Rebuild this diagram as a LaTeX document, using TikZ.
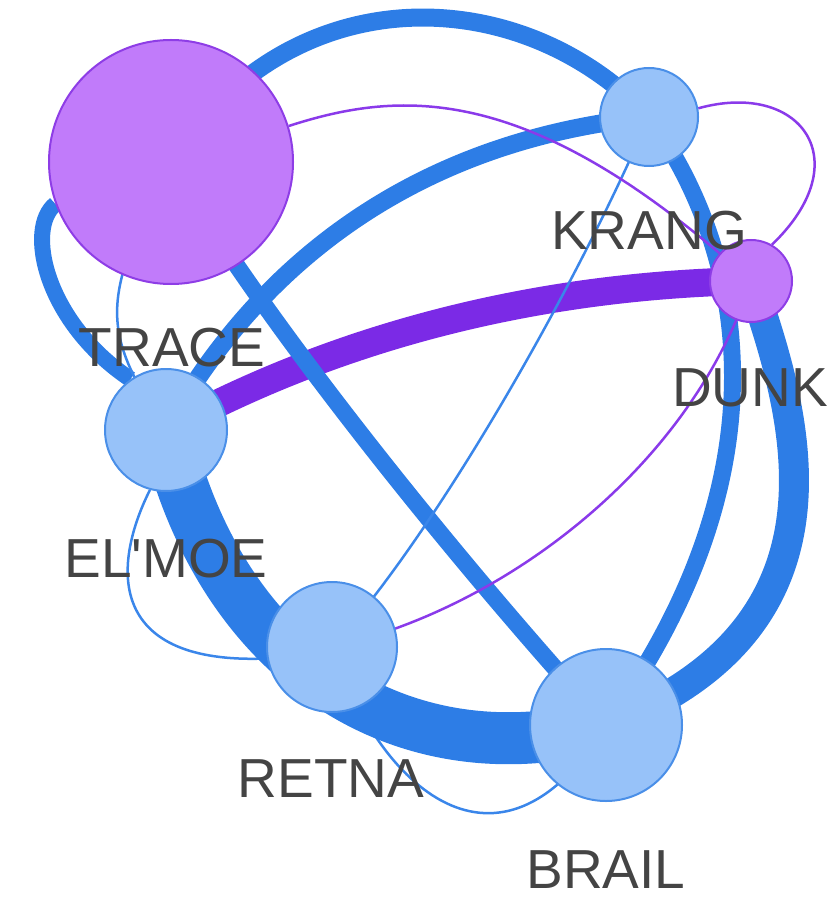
\documentclass[tikz,border=0pt]{standalone}
\usepackage{fontspec}
\setmainfont{Liberation Sans}
\pgfdeclarelayer{edgelayer}
\pgfsetlayers{edgelayer,main}
\definecolor{eblue}{HTML}{2D7DE6}
\definecolor{tblue}{HTML}{3A86EA}
\definecolor{nblue}{HTML}{97C2F9}
\definecolor{nbluedraw}{HTML}{4A8FE8}
\definecolor{npurple}{HTML}{C17BFA}
\definecolor{npurpledraw}{HTML}{8E3DE6}
\definecolor{epurple}{HTML}{7B2AE6}
\definecolor{tpurple}{HTML}{8A3AEA}
\definecolor{lblcol}{HTML}{444444}
\begin{document}
\begin{tikzpicture}[x=1pt,y=-1pt,
  vnode/.style={circle,inner sep=0pt,line width=2pt,minimum size=#1},
  bnode/.style={vnode=#1,fill=nblue,draw=nbluedraw},
  pnode/.style={vnode=#1,fill=npurple,draw=npurpledraw},
  lbltext/.style={font=\fontsize{55}{60}\selectfont,text=lblcol,inner sep=0pt},
  bband/.style={draw=eblue,line width=#1},
  pband/.style={draw=epurple,line width=#1},
  bthin/.style={draw=tblue,line width=2.5pt},
  pthin/.style={draw=tpurple,line width=2.5pt}]
\useasboundingbox (0,0) rectangle (830,909);

% nodes
\node[pnode=244] (trace) at (171,162) {};
\node[bnode=98]  (krang) at (649,117) {};
\node[pnode=82]  (dunk)  at (751,281) {};
\node[bnode=122] (elmoe) at (166,430) {};
\node[bnode=130] (retna) at (332,647) {};
\node[bnode=152] (brail) at (606,725) {};

% labels
\node[lbltext] (ltrace) at (172,348) {TRACE};
\node[lbltext] (lkrang) at (649,231) {KRANG};
\node[lbltext] (ldunk)  at (750,388) {DUNK};
\node[lbltext] (lelmoe) at (166,559) {EL\textquotesingle MOE};
\node[lbltext] (lretna) at (331,779) {RETNA};
\node[lbltext] (lbrail) at (606,870) {BRAIL};

\begin{pgfonlayer}{edgelayer}
% thin lines hidden under the lower band
\draw[bthin] (retna.center) .. controls (385,800) and (505,890) .. (brail.center);
\draw[bthin] (elmoe.255) .. controls (110,570) and (110,665) .. (retna.190);
% thick purple
\draw[pband=28] (elmoe.center) .. controls (350,330) and (550,285) .. (dunk.center);
% thick blue
\draw[bband=52] (elmoe.center) .. controls (220,660) and (400,780) .. (brail.center);
\draw[bband=18] (trace.center) .. controls (290,-25) and (520,-20) .. (krang.center);
\draw[bband=18] (elmoe.center) .. controls (260,260) and (420,140) .. (krang.center);
\draw[bband=17] (trace.center) .. controls (255,310) and (455,560) .. (brail.center);
\draw[bband=17] (krang.center) .. controls (745,250) and (790,470) .. (brail.center);
\draw[bband=30] (dunk.center) .. controls (795,410) and (865,625) .. (brail.center);
\draw[bband=16] (trace.200) .. controls (25,228) and (45,322) .. (elmoe.125);
% thin blue
\draw[bthin] (trace.center) .. controls (100,300) and (100,330) .. (elmoe.center);
\draw[bthin] (retna.center) .. controls (430,540) and (570,300) .. (krang.center);
% thin purple
\draw[pthin] (trace.17) .. controls (400,90) and (530,80) .. (dunk.center);
\draw[pthin] (krang.10) .. controls (800,80) and (860,160) .. (dunk.60);
\draw[pthin] (retna.center) .. controls (500,610) and (690,470) .. (dunk.center);
\end{pgfonlayer}
\end{tikzpicture}
\end{document}
